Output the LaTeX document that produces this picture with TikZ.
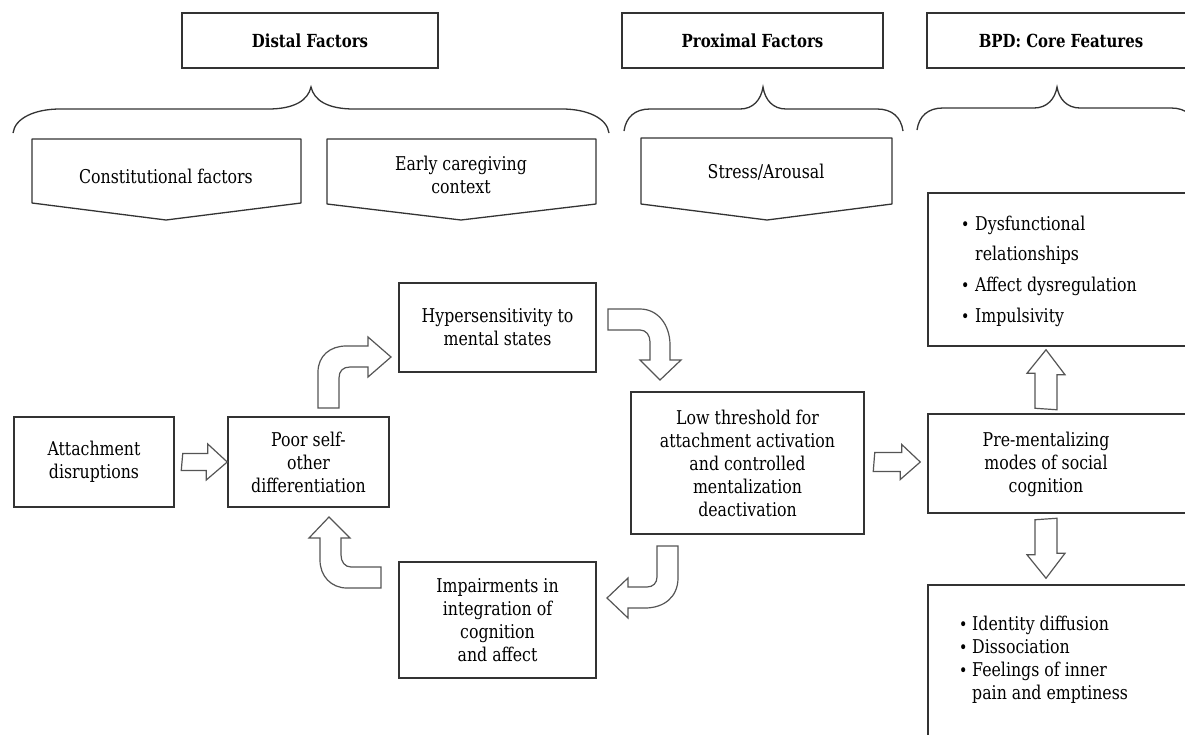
\documentclass[tikz,border=0pt]{standalone}
\usepackage{fontspec}
\setmainfont{DejaVu Serif}[FakeStretch=0.83]
\usetikzlibrary{calc}
\definecolor{boxc}{HTML}{333333}
\definecolor{arrc}{HTML}{555555}
\newcommand{\fsz}{\fontsize{19}{23}\selectfont}
\newcommand{\hsz}{\fontsize{18}{20}\selectfont\bfseries}
\newcommand{\bdot}{{\fontsize{17}{17}\selectfont\raisebox{0.5pt}{•}}}
\newcommand{\bul}{\makebox[10pt][c]{\bdot}\hspace{5pt}}
\newcommand{\bulb}{\makebox[10pt][c]{\bdot}\hspace{4pt}}
\begin{document}
\begin{tikzpicture}[x=1pt,y=-1pt,
  box/.style={draw=boxc, line width=1.5pt, inner sep=0pt, align=center, font=\fsz},
  hbox/.style={draw=boxc, line width=1.5pt, inner sep=0pt, align=center, font=\hsz},
  txt/.style={inner sep=0pt, align=center, font=\fsz},
  lst/.style={inner sep=0pt, anchor=base west, font=\fsz},
  pent/.style={draw=boxc, line width=1.3pt, line join=round},
  brace/.style={draw=boxc, line width=1.3pt},
  barrow/.style={draw=arrc, line width=1.2pt, fill=white, line join=miter}]
\useasboundingbox (0,0) rectangle (1185,734);
\fill[white] (0,0) rectangle (1185,734);
\clip (0,0) rectangle (1185,734);

% header boxes
\node[hbox, minimum width=256, minimum height=55] (distal) at (310,40.5) {Distal Factors};
\node[hbox, minimum width=261, minimum height=55] (prox) at (752.5,40.5) {Proximal Factors};
\node[hbox, minimum width=268, minimum height=55] (bpd) at (1061,40.5) {BPD: Core Features};

% braces
\draw[brace] (13,133) .. controls (15,118) and (35,109) .. (60,109) -- (268,109)
  .. controls (295,109) and (308,100) .. (311,87) .. controls (314,100) and (327,109) .. (354,109)
  -- (562,109) .. controls (587,109) and (607,118) .. (609,133);
\draw[brace] (624,131) .. controls (626,117) and (635,109) .. (650,109) -- (740,109)
  .. controls (753,109) and (761,100) .. (763,87) .. controls (765,100) and (773,109) .. (786,109)
  -- (877,109) .. controls (892,109) and (901,117) .. (903,131);
\draw[brace] (917,130) .. controls (919,116) and (928,108) .. (943,108) -- (1034,108)
  .. controls (1047,108) and (1055,99) .. (1057,87) .. controls (1059,99) and (1067,108) .. (1080,108)
  -- (1171,108) .. controls (1186,108) and (1195,116) .. (1197,130);

% pentagons
\draw[pent] (32,139) -- (301,139) -- (301,203) -- (166,220) -- (32,203) -- cycle;
\node[txt] (const) at (166,176) {Constitutional factors};
\draw[pent] (327,139) -- (596,139) -- (596,204) -- (461,220) -- (327,204) -- cycle;
\node[txt] (early) at (461,175) {Early caregiving\\context};
\draw[pent] (641,138) -- (892,138) -- (892,204) -- (767,220) -- (641,204) -- cycle;
\node[txt] (stress) at (766,172) {Stress/Arousal};

% main boxes
\node[box, minimum width=160, minimum height=90] (att) at (94,462) {Attachment\\disruptions};
\node[box, minimum width=161, minimum height=90] (poor) at (308.5,462) {Poor self-\\other\\differentiation};
\node[box, minimum width=197, minimum height=89] (hyp) at (497.5,327.5) {Hypersensitivity to\\mental states};
\node[box, minimum width=233, minimum height=142] (low) at (747.5,463) {Low threshold for\\attachment activation\\and controlled\\mentalization\\deactivation};
\node[box, minimum width=197, minimum height=116] (imp) at (497.5,620) {Impairments in\\integration of\\cognition\\and affect};
\node[box, minimum width=267, minimum height=99] (pre) at (1061.5,463.5) {};
\node[txt] (pretext) at (1046,464) {Pre-mentalizing\\modes of social\\cognition};
\node[box, minimum width=267, minimum height=153] (dys) at (1061.5,269.5) {};
\node[box, minimum width=267, minimum height=175] (idb) at (1061.5,672.5) {};

% list texts
\node[lst] (d1) at (960,230.5) {\bul Dysfunctional};
\node[lst] (d2) at (975,260.5) {relationships};
\node[lst] (d3) at (960,291.5) {\bul Affect dysregulation};
\node[lst] (d4) at (960,322.5) {\bul Impulsivity};
\node[lst] (i1) at (958,630.5) {\bulb Identity diffusion};
\node[lst] (i2) at (958,653.5) {\bulb Dissociation};
\node[lst] (i3) at (958,676.5) {\bulb Feelings of inner};
\node[lst] (i4) at (972,699.5) {pain and emptiness};

% straight block arrows
\draw[barrow] ($(att.east)+(8,-8.5)$) -- ++(25,0) -- ++(0,-9.5) -- (poor.west) -- ++(-21,18) -- ++(0,-9.5) -- ++(-25,0) -- cycle;
\draw[barrow] ($(low.east)+(10,-10.5)$) -- ++(27,0) -- ++(0,-8) -- ($(pre.west)+(-7,-1.5)$) -- ++(-20,17.5) -- ++(0,-8) -- ++(-27,0) -- cycle;
\draw[barrow] ($(pre.north)+(-26.5,-5)$) -- ++(0,-35) -- ++(-8,0) -- ($(dys.south)+(-15.5,3)$) -- ++(19,25) -- ++(-8,0) -- ++(0,35) -- cycle;
\draw[barrow] ($(pre.south)+(-26.5,6)$) -- ++(0,35) -- ++(-8,0) -- ($(idb.north)+(-15.5,-6)$) -- ++(19,-25) -- ++(-8,0) -- ++(0,-35) -- cycle;

% curved block arrows
% poor -> hyp
\draw[barrow] (318,408) -- (318,372) .. controls (318,356) and (330,346) .. (346,346) -- (368,346) -- (368,337) -- (391,357) -- (368,377) -- (368,367) -- (350,367) .. controls (343,367) and (339,371) .. (339,378) -- (339,408) -- cycle;
% hyp -> low
\draw[barrow] (608,309) -- (640,309) .. controls (658,309) and (670,325) .. (670,345) -- (670,360) -- (681,360) -- (660,380) -- (640,360) -- (650,360) -- (650,342) .. controls (650,335) and (646,330) .. (640,330) -- (608,330) -- cycle;
% low -> imp
\draw[barrow] (657,546) -- (678,546) -- (678,578) .. controls (678,597) and (664,608) .. (645,608) -- (628,608) -- (628,618) -- (607,598) -- (628,578) -- (628,587) -- (647,587) .. controls (653,587) and (657,583) .. (657,577) -- cycle;
% imp -> poor
\draw[barrow] (381,567) -- (381,588) -- (347,588) .. controls (331,588) and (320,576) .. (320,560) -- (320,538) -- (309,538) -- (329,517) -- (350,538) -- (341,538) -- (341,555) .. controls (341,562) and (345,567) .. (351,567) -- cycle;
\end{tikzpicture}
\end{document}
